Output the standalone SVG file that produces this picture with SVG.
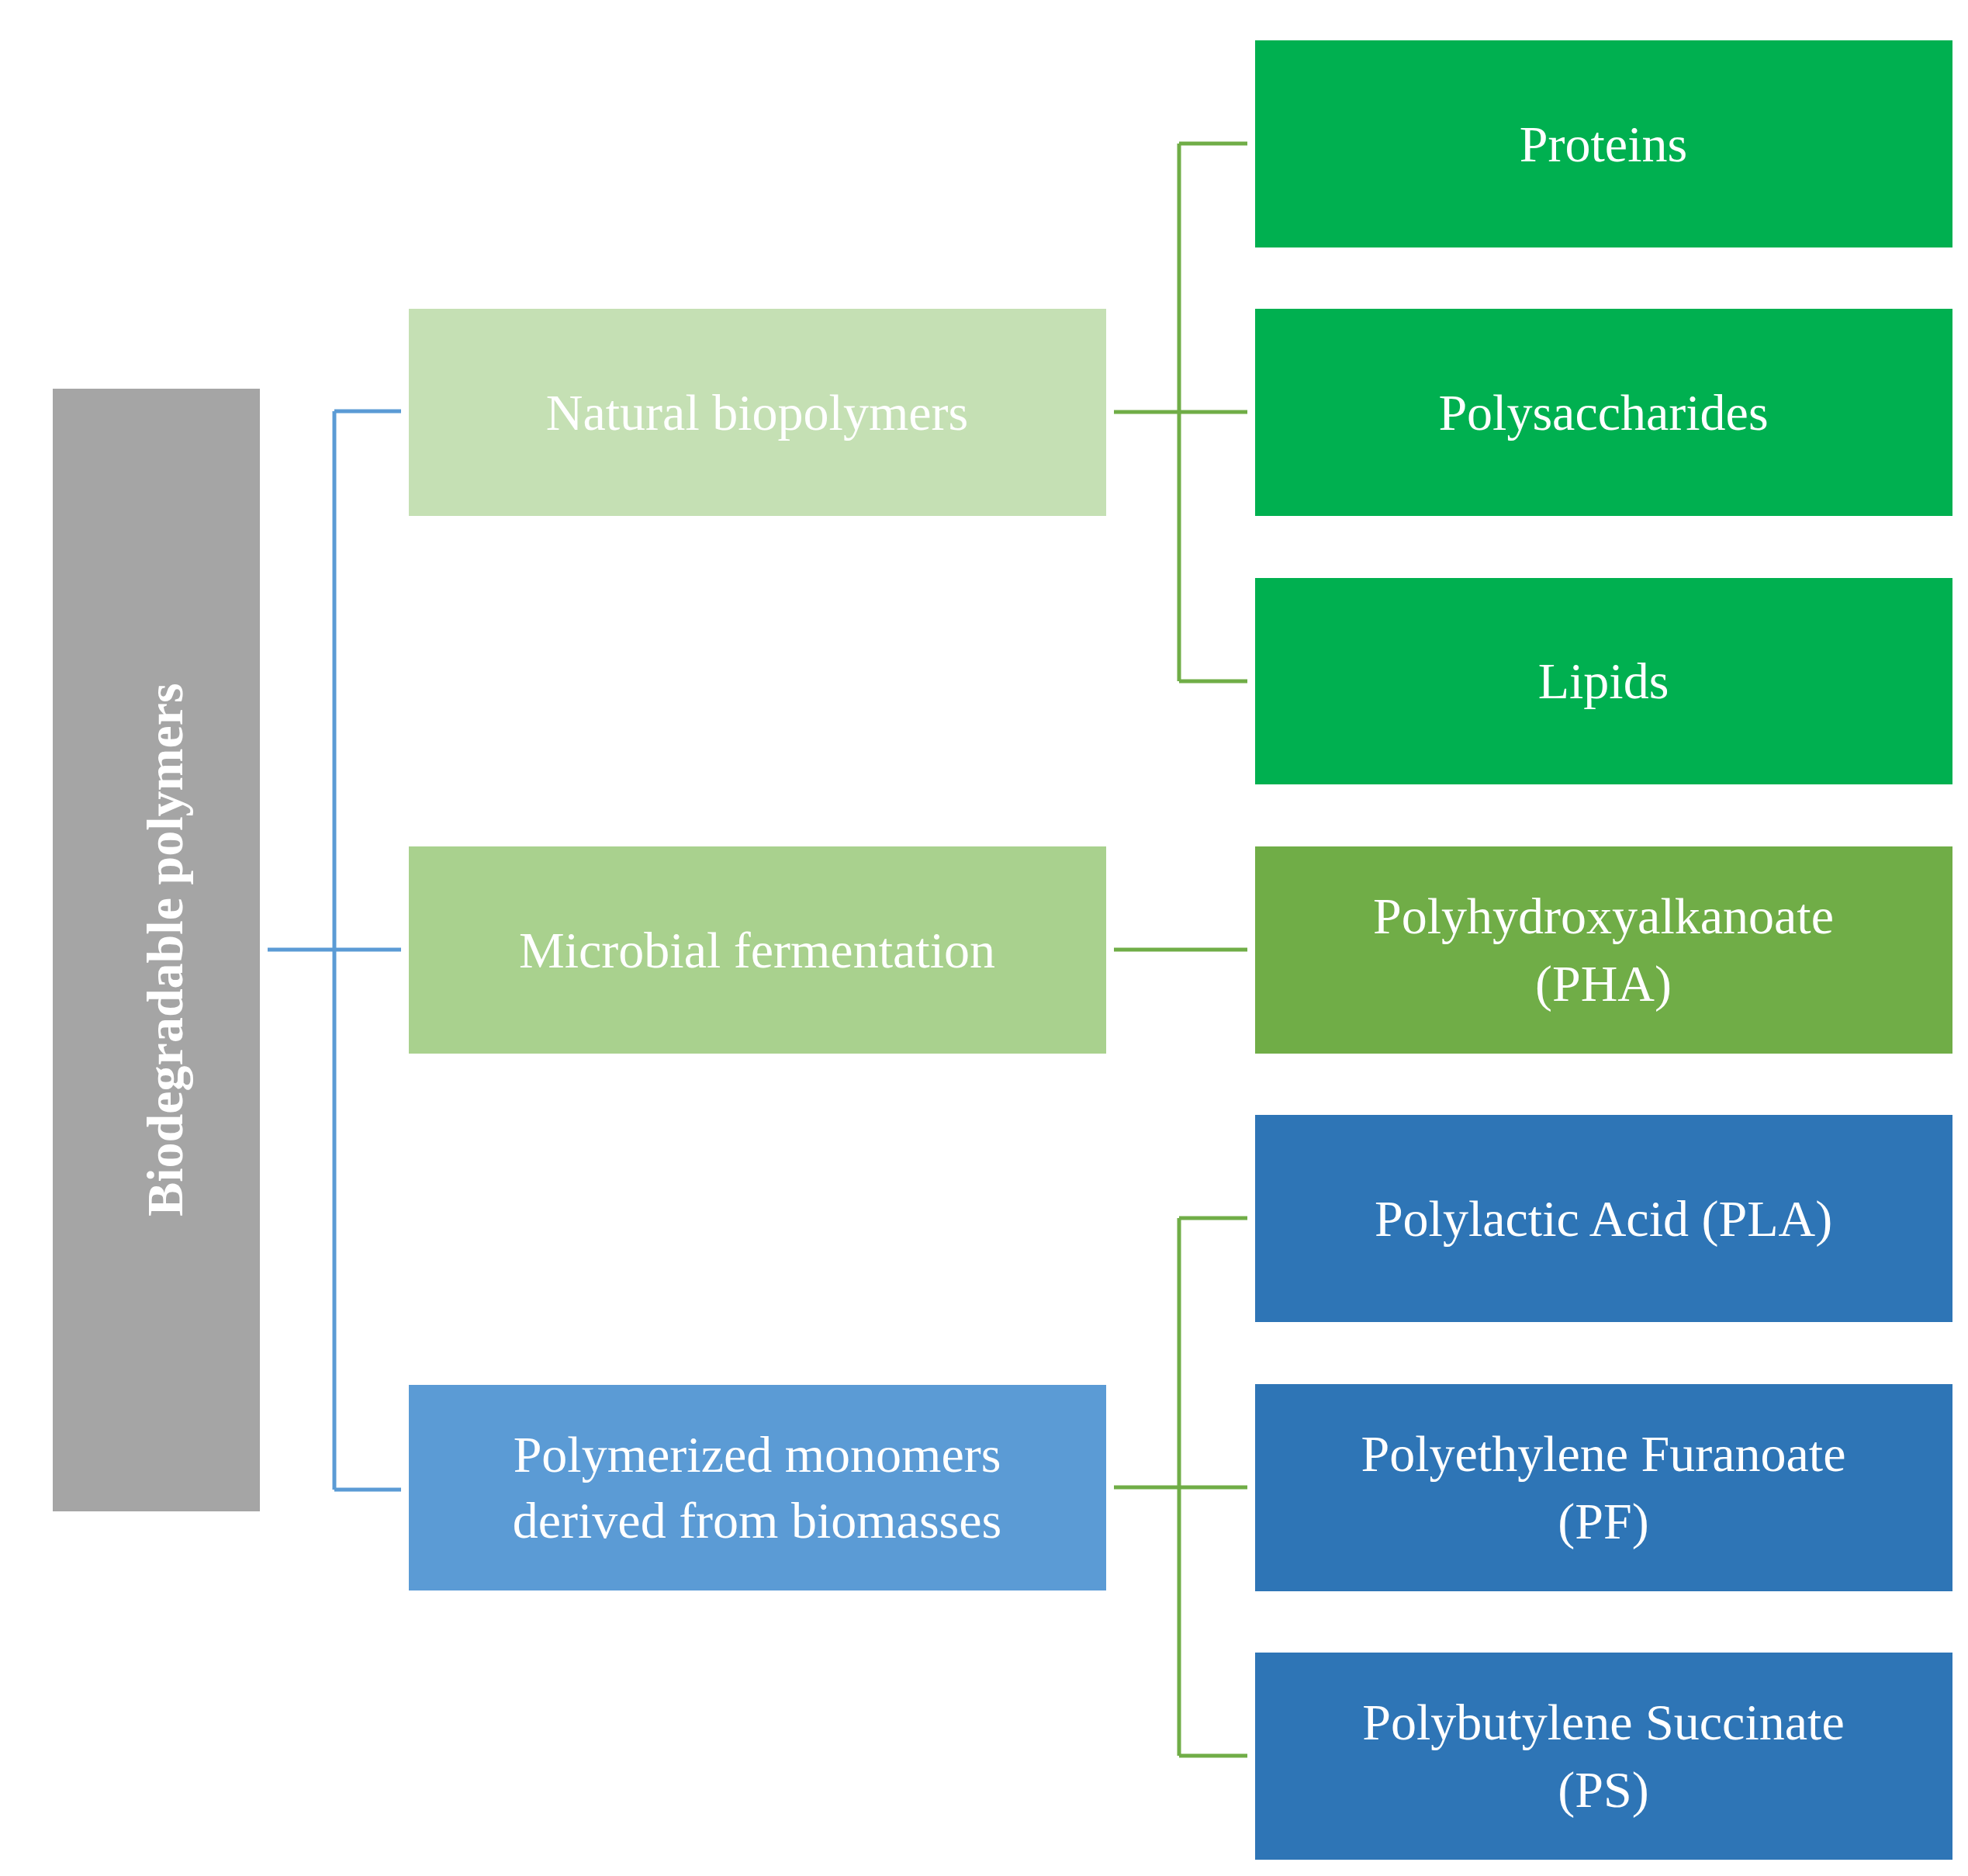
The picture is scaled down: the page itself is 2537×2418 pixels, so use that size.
<svg xmlns="http://www.w3.org/2000/svg" width="2537" height="2418" viewBox="0 0 2537 2418">
<style>
text{font-family:"Liberation Serif","Times New Roman",serif;fill:#fff;text-anchor:middle;font-size:66px}
.b{stroke:#5B9BD5;stroke-width:5;fill:none}
.g{stroke:#70AD47;stroke-width:5;fill:none}
</style>
<rect width="2537" height="2418" fill="#fff"/>
<g id="connectors">
<path class="b" d="M345 1224H431M431 530V1920M431 530H517M431 1224H517M431 1920H517"/>
<path class="g" d="M1436 531H1520M1520 185V878M1520 185H1608M1520 531H1608M1520 878H1608"/>
<path class="g" d="M1436 1224H1608"/>
<path class="g" d="M1436 1917H1520M1520 1570V2263M1520 1570H1608M1520 1917H1608M1520 2263H1608"/>
</g>
<g id="root"><rect x="68" y="501" width="267" height="1447" fill="#A5A5A5"/><text transform="translate(235 1224) rotate(-90)" font-size="108" font-weight="bold">Biodegradable polymers</text></g>
<g id="natural"><rect x="527" y="398" width="899" height="267" fill="#C5E0B4"/><text x="976" y="554">Natural biopolymers</text></g>
<g id="microbial"><rect x="527" y="1091" width="899" height="267" fill="#A9D18E"/><text x="976" y="1247">Microbial fermentation</text></g>
<g id="polymerized"><rect x="527" y="1785" width="899" height="265" fill="#5B9BD5"/><text x="976" y="1897">Polymerized monomers</text><text x="976" y="1982">derived from biomasses</text></g>
<g id="proteins"><rect x="1618" y="52" width="899" height="267" fill="#00B050"/><text x="2067" y="208">Proteins</text></g>
<g id="polysaccharides"><rect x="1618" y="398" width="899" height="267" fill="#00B050"/><text x="2067" y="554">Polysaccharides</text></g>
<g id="lipids"><rect x="1618" y="745" width="899" height="266" fill="#00B050"/><text x="2067" y="900">Lipids</text></g>
<g id="pha"><rect x="1618" y="1091" width="899" height="267" fill="#70AD47"/><text x="2067" y="1203">Polyhydroxyalkanoate</text><text x="2067" y="1290">(PHA)</text></g>
<g id="pla"><rect x="1618" y="1437" width="899" height="267" fill="#2E75B6"/><text x="2067" y="1593">Polylactic Acid (PLA)</text></g>
<g id="pf"><rect x="1618" y="1784" width="899" height="267" fill="#2E75B6"/><text x="2067" y="1896">Polyethylene Furanoate</text><text x="2067" y="1983">(PF)</text></g>
<g id="ps"><rect x="1618" y="2130" width="899" height="267" fill="#2E75B6"/><text x="2067" y="2242">Polybutylene Succinate</text><text x="2067" y="2329">(PS)</text></g>
</svg>
